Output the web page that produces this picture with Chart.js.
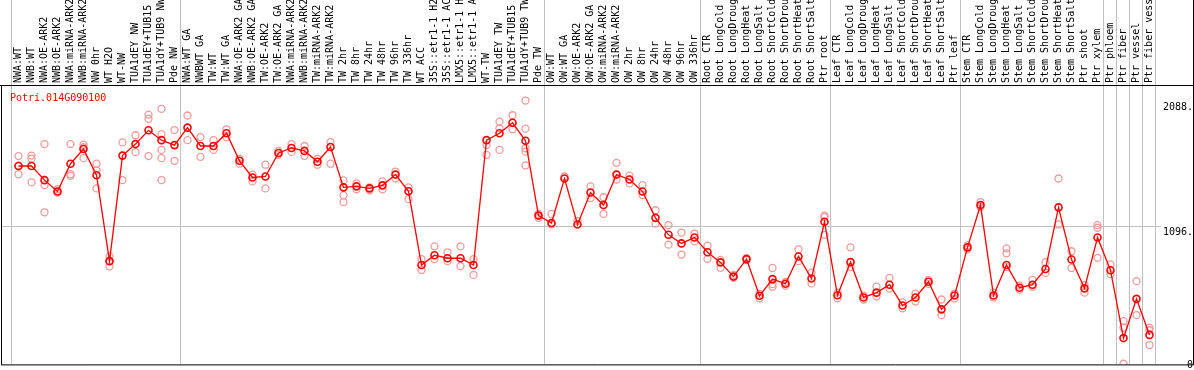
<!DOCTYPE html>
<html>
<head>
<meta charset="UTF-8">
<title>Potri.014G090100</title>
<script src="https://cdn.jsdelivr.net/npm/chart.js"></script>
<style>
  body { margin: 0; background: #fff; }
  canvas { display: block; }
</style>
</head>
<body>
<canvas id="chart" width="1194" height="370"></canvas>
<script>
const geneName = 'Potri.014G090100';

const categories = [
  'NWA:WT', 'NWB:WT', 'NWA:OE-ARK2', 'NWB:OE-ARK2', 'NWA:miRNA-ARK2', 'NWB:miRNA-ARK2',
  'NW 0hr', 'WT H2O', 'WT-NW', 'TUA1dEY NW', 'TUA1dEY+TUB15 NW', 'TUA1dY+TUB9 NW', 'Pde NW',
  'NWA:WT GA', 'NWBWT GA', 'TW:WT', 'TW:WT GA', 'NWA:OE-ARK2 GA', 'NWB:OE-ARK2 GA',
  'TW:OE-ARK2', 'TW:OE-ARK2 GA', 'NWA:miRNA-ARK2', 'NWB:miRNA-ARK2', 'TW:miRNA-ARK2', 'TW:miRNA-ARK2',
  'TW 2hr', 'TW 8hr', 'TW 24hr', 'TW 48hr', 'TW 96hr', 'TW 336hr',
  'WT ACC', '35S::etr1-1 H2O', '35S::etr1-1 ACC', 'LMX5::etr1-1 H2O', 'LMX5::etr1-1 ACC',
  'WT-TW', 'TUA1dEY TW', 'TUA1dEY+TUB15 TW', 'TUA1dY+TUB9 TW', 'Pde TW',
  'OW:WT', 'OW:WT GA', 'OW:OE-ARK2', 'OW:OE-ARK2 GA', 'OW:miRNA-ARK2', 'OW:miRNA-ARK2',
  'OW 2hr', 'OW 8hr', 'OW 24hr', 'OW 48hr', 'OW 96hr', 'OW 336hr',
  'Root CTR', 'Root LongCold', 'Root LongDrought', 'Root LongHeat', 'Root LongSalt',
  'Root ShortCold', 'Root ShortDrought', 'Root ShortHeat', 'Root ShortSalt', 'Ptr root',
  'Leaf CTR', 'Leaf LongCold', 'Leaf LongDrought', 'Leaf LongHeat', 'Leaf LongSalt',
  'Leaf ShortCold', 'Leaf ShortDrought', 'Leaf ShortHeat', 'Leaf ShortSalt', 'Ptr leaf',
  'Stem CTR', 'Stem LongCold', 'Stem LongDrought', 'Stem LongHeat', 'Stem LongSalt',
  'Stem ShortCold', 'Stem ShortDrought', 'Stem ShortHeat', 'Stem ShortSalt', 'Ptr shoot',
  'Ptr xylem', 'Ptr phloem', 'Ptr fiber', 'Ptr vessel', 'Ptr fiber vessel'
];

// mean expression per sample (red line)
const meanValues = [
  1568, 1568, 1456, 1366, 1586, 1702, 1495, 816, 1650, 1741,
  1850, 1772, 1733, 1871, 1726, 1726, 1827, 1609, 1477, 1485,
  1671, 1710, 1687, 1601, 1718, 1399, 1407, 1391, 1415, 1500,
  1368, 785, 863, 839, 839, 785, 1772, 1827, 1910, 1767,
  1176, 1117, 1469, 1106, 1358, 1259, 1500, 1461, 1366, 1158,
  1024, 956, 1003, 886, 806, 694, 832, 542, 674, 637,
  853, 679, 1127, 546, 808, 529, 567, 630, 466, 529,
  653, 435, 544, 925, 1259, 544, 785, 606, 630, 754,
  1241, 829, 601, 1003, 744, 208, 518, 233
];

// individual replicates (pink circles)
const replicateValues = [
  [1646, 1570, 1503], [1650, 1625, 1438], [1741, 1417, 1202], [1384, 1358], [1741, 1503, 1490],
  [1736, 1716, 1630], [1586, 1534, 1391], [853, 816, 775], [1754, 1456], [1811, 1677],
  [1974, 1941, 1646], [2019, 1819, 1695, 1630, 1456], [1852, 1609], [1967, 1772], [1796, 1640],
  [1772, 1695], [1858, 1796], [1625, 1586], [1500, 1446], [1578, 1391],
  [1687, 1656], [1741, 1679], [1726, 1648], [1625, 1578], [1757, 1586],
  [1454, 1337, 1283], [1430, 1384], [1399, 1376], [1446, 1384], [1524, 1469],
  [1399, 1306], [832, 746], [933, 832], [886, 816], [933, 777],
  [832, 707], [1733, 1656], [1918, 1866, 1695], [1969, 1858], [2085, 1863, 1708, 1681, 1572],
  [1189, 1158], [1189, 1106], [1485], [1133], [1407, 1314],
  [1321, 1189], [1593, 1461], [1492, 1430], [1417, 1339], [1218, 1112],
  [1101, 946], [1042, 868], [1034, 972], [938, 834], [826, 764],
  [707, 684], [839, 824], [557, 521], [762, 635, 614], [651, 622],
  [909, 816], [725, 640], [1176, 1164, 1024], [567, 523], [925, 770],
  [544, 513], [614, 536], [684, 599], [490, 443], [560, 497],
  [668, 637], [513, 389], [560, 521], [941, 909], [1283, 1244],
  [567, 529], [917, 878, 770], [622, 591], [668, 614], [808, 723],
  [1469, 1106], [894, 762], [627, 567], [1101, 1080, 842], [790, 713],
  [342, 290, 5], [658, 389], [290, 270, 153]
];

const yTicks = [0, 1096, 2088];
const yMax = 2200;
const gridValue = 1096;
// sample index where a new group starts (vertical separators)
const groupBreaks = [0, 13, 41, 53, 63, 73, 84, 85, 86, 87, 88];

const monoFont = { family: 'DejaVu Sans Mono', size: 10 };

const maxReps = Math.max(...replicateValues.map(r => r.length));
const repDatasets = [];
for (let k = 0; k < maxReps; k++) {
  repDatasets.push({
    label: 'rep ' + (k + 1),
    data: replicateValues.map(r => (r[k] === undefined ? null : r[k])),
    showLine: false,
    pointRadius: 3.5,
    pointBorderWidth: 1.3,
    pointBorderColor: '#f09a9a',
    pointBackgroundColor: 'rgba(0,0,0,0)'
  });
}

const framePlugin = {
  id: 'frame',
  beforeDatasetsDraw(chart) {
    const { ctx, chartArea, scales: { x, y } } = chart;
    ctx.save();
    ctx.strokeStyle = '#c0c0c0';
    ctx.lineWidth = 1;
    ctx.beginPath();
    groupBreaks.forEach(k => {
      const px = Math.round(x.getPixelForValue(k - 0.5)) - 0.5;
      ctx.moveTo(px, 0);
      ctx.lineTo(px, chartArea.bottom);
    });
    const gy = Math.round(y.getPixelForValue(gridValue)) + 0.5;
    ctx.moveTo(1, gy);
    ctx.lineTo(chartArea.right + 5, gy);
    ctx.stroke();

    ctx.fillStyle = '#ff0000';
    ctx.font = '10px "DejaVu Sans Mono"';
    ctx.textBaseline = 'alphabetic';
    ctx.fillText(geneName, chartArea.left - 2, chartArea.top + 14.5);
    ctx.restore();
  },
  afterDraw(chart) {
    const { ctx, chartArea, width } = chart;
    ctx.save();
    ctx.strokeStyle = '#000';
    ctx.lineWidth = 1;
    ctx.beginPath();
    ctx.moveTo(0, chartArea.top - 0.5);
    ctx.lineTo(width, chartArea.top - 0.5);
    ctx.moveTo(1.5, chartArea.top - 0.5);
    ctx.lineTo(1.5, chartArea.bottom + 0.5);
    ctx.moveTo(1, chartArea.bottom + 0.5);
    ctx.lineTo(width - 0.5, chartArea.bottom + 0.5);
    ctx.moveTo(width - 0.5, 0);
    ctx.lineTo(width - 0.5, chartArea.bottom + 0.5);
    ctx.stroke();
    ctx.restore();
  }
};

function noScalePadding(s) {
  s.paddingLeft = 0;
  s.paddingRight = 0;
  s.paddingTop = 0;
  s.paddingBottom = 0;
}

new Chart(document.getElementById('chart'), {
  type: 'line',
  data: {
    labels: categories,
    datasets: [
      {
        label: 'mean',
        data: meanValues,
        borderColor: '#ff0000',
        borderWidth: 1.3,
        tension: 0,
        fill: false,
        pointRadius: 3.5,
        pointBorderWidth: 1.6,
        pointBorderColor: '#ff0000',
        pointBackgroundColor: 'rgba(0,0,0,0)'
      },
      ...repDatasets
    ]
  },
  options: {
    responsive: false,
    animation: false,
    devicePixelRatio: 1,
    layout: { padding: { left: 12, right: 1, top: 0, bottom: 1 } },
    plugins: {
      legend: { display: false },
      tooltip: { enabled: false }
    },
    scales: {
      x: {
        position: 'top',
        offset: true,
        grid: { display: false, drawTicks: false },
        border: { display: false },
        afterFit: s => { s.height = 86; noScalePadding(s); },
        ticks: {
          autoSkip: false,
          minRotation: 90,
          maxRotation: 90,
          padding: 3,
          labelOffset: 12,
          color: '#000',
          font: monoFont
        }
      },
      y: {
        position: 'right',
        min: 0,
        max: yMax,
        afterBuildTicks: s => { s.ticks = yTicks.map(v => ({ value: v })); },
        afterFit: s => { s.width = 37; noScalePadding(s); },
        grid: { display: false, drawTicks: false },
        border: { display: false },
        ticks: {
          crossAlign: 'far',
          padding: 5,
          labelOffset: 7,
          color: '#000',
          font: monoFont,
          // the bottom label sits above the frame, so it is lifted by an empty line
          callback: v => (v === 0 ? ['0', ''] : v + '.')
        }
      }
    }
  },
  plugins: [framePlugin]
});
</script>
</body>
</html>
